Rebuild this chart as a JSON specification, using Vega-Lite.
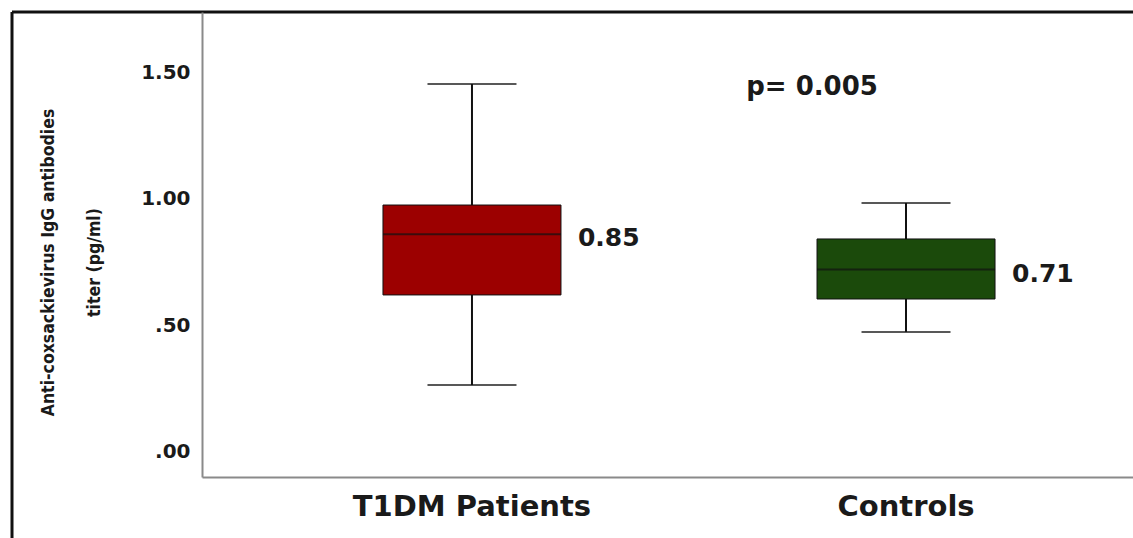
{
  "$schema": "https://vega.github.io/schema/vega-lite/v6.json",
  "width": 1121,
  "height": 526,
  "autosize": {"type": "none"},
  "padding": {"left": 12, "top": 12, "right": 0, "bottom": 0},
  "background": "white",
  "config": {
    "view": {"stroke": "#111111", "strokeWidth": 3, "strokeDash": [1121, 1647, 526, 0]},
    "axisY": {
      "offset": -190, "domainColor": "#8a8a8a", "domainWidth": 2, "ticks": false, "grid": false,
      "labelFont": "DejaVu Sans", "labelFontWeight": "bold", "labelFontSize": 20, "labelColor": "#1a1a1a", "labelPadding": 12,
      "titleFont": "DejaVu Sans Condensed", "titleFontSize": 17.5, "titleFontWeight": "bold", "titleColor": "#1a1a1a",
      "titleX": -163, "titleY": 250, "titleAngle": -90, "titleAlign": "center", "titleBaseline": "top", "titleLineHeight": 46, "titleLimit": 0
    },
    "axisX": {
      "offset": -61, "domainColor": "#8a8a8a", "domainWidth": 2, "ticks": false, "grid": false,
      "labelFont": "DejaVu Sans", "labelFontWeight": "bold", "labelFontSize": 29, "labelColor": "#1a1a1a", "labelPadding": 15, "labelAngle": 0, "labelLimit": 0
    },
    "text": {"font": "DejaVu Sans", "fontWeight": "bold", "color": "#1a1a1a"}
  },
  "data": {"values": [
    {"group": "T1DM Patients", "lower": 0.264, "q1": 0.62, "median": 0.86, "q3": 0.975, "upper": 1.453, "label": "0.85"},
    {"group": "Controls", "lower": 0.474, "q1": 0.604, "median": 0.72, "q3": 0.841, "upper": 0.983, "label": "0.71"}
  ]},
  "encoding": {
    "x": {
      "field": "group", "type": "nominal", "sort": ["T1DM Patients", "Controls"],
      "scale": {"type": "band", "range": [190, 1164], "paddingInner": 0, "paddingOuter": 0.122},
      "axis": {"title": null}
    }
  },
  "layer": [
    {
      "mark": {"type": "rule", "color": "#111111", "strokeWidth": 2},
      "encoding": {
        "y": {"field": "lower", "type": "quantitative", "title": ["Anti-coxsackievirus IgG antibodies", "titer (pg/ml)"],
          "scale": {"domain": [-0.0987, 1.737], "range": [465, 0], "nice": false, "zero": false},
          "axis": {"values": [0, 0.5, 1, 1.5], "labelExpr": "datum.value < 1 ? slice(format(datum.value, '.2f'), 1) : format(datum.value, '.2f')"}},
        "y2": {"field": "upper"}
      }
    },
    {
      "mark": {"type": "tick", "color": "#111111", "thickness": 2, "size": 89},
      "encoding": {"y": {"field": "lower", "type": "quantitative", "title": ["Anti-coxsackievirus IgG antibodies", "titer (pg/ml)"]}}
    },
    {
      "mark": {"type": "tick", "color": "#111111", "thickness": 2, "size": 89},
      "encoding": {"y": {"field": "upper", "type": "quantitative", "title": ["Anti-coxsackievirus IgG antibodies", "titer (pg/ml)"]}}
    },
    {
      "mark": {"type": "bar", "size": 178, "stroke": "#111111", "strokeWidth": 1},
      "encoding": {
        "y": {"field": "q1", "type": "quantitative", "title": ["Anti-coxsackievirus IgG antibodies", "titer (pg/ml)"]},
        "y2": {"field": "q3"},
        "color": {"field": "group", "type": "nominal", "scale": {"domain": ["T1DM Patients", "Controls"], "range": ["#9c0000", "#1b4a0b"]}, "legend": null}
      }
    },
    {
      "mark": {"type": "tick", "color": "#111111", "thickness": 2, "size": 178},
      "encoding": {"y": {"field": "median", "type": "quantitative", "title": ["Anti-coxsackievirus IgG antibodies", "titer (pg/ml)"]}}
    },
    {
      "mark": {"type": "text", "align": "left", "baseline": "middle", "dx": 106, "dy": 4, "fontSize": 25},
      "encoding": {
        "y": {"field": "median", "type": "quantitative", "title": ["Anti-coxsackievirus IgG antibodies", "titer (pg/ml)"]},
        "text": {"field": "label"}
      }
    },
    {
      "data": {"values": [{"group": "Controls", "y": 1.44, "text": "p= 0.005"}]},
      "mark": {"type": "text", "align": "center", "baseline": "middle", "dx": -94, "fontSize": 26},
      "encoding": {
        "y": {"field": "y", "type": "quantitative", "title": ["Anti-coxsackievirus IgG antibodies", "titer (pg/ml)"]},
        "text": {"field": "text"}
      }
    }
  ]
}
